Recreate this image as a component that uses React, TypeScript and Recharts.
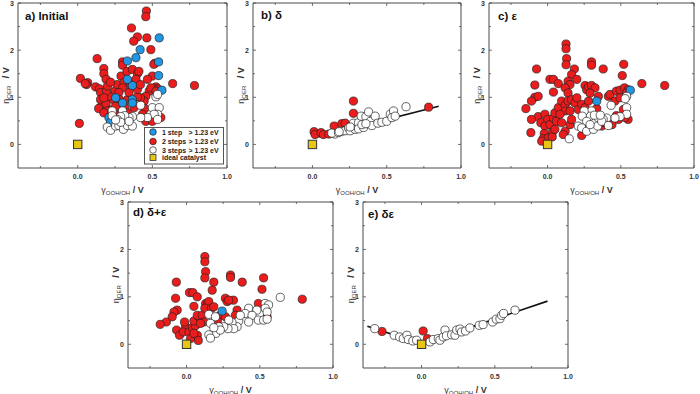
import React from 'react';
import { ScatterChart, Scatter, XAxis, YAxis, ReferenceArea, Label } from 'recharts';

type P = [number, number];

// ---------- data ----------
const aRed: P[] = [[0.46,2.83],[0.456,2.71],[0.36,2.47],[0.40,2.28],[0.375,2.19],[0.463,2.26],[0.49,2.01],[0.13,1.82],[0.30,1.75],[0.30,1.68],[0.517,1.72],[0.175,1.61],[0.175,1.50],[0.19,1.38],[0.018,1.40],[0.067,1.31],[0.06,1.27],[0.12,1.22],[0.146,1.18],[0.153,1.10],[0.153,0.95],[0.153,0.79],[0.14,0.76],[0.19,0.86],[0.24,0.95],[0.25,1.13],[0.265,1.27],[0.29,1.45],[0.33,1.55],[0.366,1.59],[0.40,1.50],[0.41,1.55],[0.39,1.38],[0.333,1.34],[0.31,1.31],[0.355,1.25],[0.30,1.20],[0.276,1.10],[0.28,0.95],[0.29,0.81],[0.315,0.78],[0.333,0.95],[0.265,0.67],[0.243,0.64],[0.22,0.73],[0.20,0.71],[0.22,0.64],[0.238,0.57],[0.247,0.49],[0.30,0.42],[0.011,0.445],[0.50,1.45],[0.51,1.70],[0.524,1.22],[0.535,1.18],[0.512,1.17],[0.479,1.13],[0.49,1.20],[0.456,1.02],[0.445,0.92],[0.42,0.99],[0.40,1.01],[0.45,0.76],[0.434,0.64],[0.456,0.49],[0.50,0.49],[0.557,0.57],[0.636,1.29],[0.782,1.25],[0.21,1.02],[0.193,1.13],[0.175,0.99],[0.05,1.29],[0.20,1.24],[0.22,1.32],[0.175,0.67],[0.254,0.81],[0.333,0.67],[0.377,0.78],[0.366,0.92],[0.344,1.10],[0.40,1.17],[0.42,1.27],[0.467,1.38],[0.524,1.13]];
const aBlue: P[] = [[0.546,2.26],[0.418,2.01],[0.39,1.84],[0.333,1.77],[0.542,1.75],[0.542,1.46],[0.366,1.25],[0.333,1.38],[0.564,1.15],[0.366,0.95],[0.366,0.88],[0.209,0.57],[0.22,0.47],[0.30,0.88],[0.254,0.99]];
const aWhite: P[] = [[0.524,1.01],[0.535,1.06],[0.422,0.83],[0.50,0.78],[0.546,0.78],[0.535,0.64],[0.512,0.64],[0.467,0.57],[0.422,0.57],[0.366,0.59],[0.344,0.57],[0.30,0.71],[0.315,0.61],[0.288,0.59],[0.265,0.53],[0.231,0.71],[0.231,0.61],[0.198,0.37],[0.22,0.30],[0.254,0.39],[0.276,0.40],[0.306,0.32],[0.333,0.40],[0.366,0.39],[0.344,0.49],[0.288,0.47],[0.254,0.52],[0.535,0.53]];

const bRed: P[] = [[0.011,0.27],[0.018,0.21],[0.058,0.25],[0.074,0.21],[0.11,0.22],[0.146,0.39],[0.198,0.44],[0.22,0.45],[0.276,0.92],[0.276,0.66],[0.782,0.79]];
const bWhite: P[] = [[0.15,0.22],[0.13,0.24],[0.175,0.25],[0.198,0.28],[0.22,0.29],[0.243,0.35],[0.254,0.29],[0.276,0.45],[0.288,0.32],[0.31,0.46],[0.328,0.60],[0.31,0.33],[0.344,0.36],[0.36,0.59],[0.378,0.69],[0.39,0.49],[0.40,0.40],[0.422,0.60],[0.44,0.45],[0.467,0.47],[0.50,0.49],[0.524,0.64],[0.546,0.71],[0.535,0.57],[0.557,0.60],[0.63,0.80],[0.333,0.42],[0.36,0.44],[0.254,0.37],[0.18,0.27]];
const bLine: P[] = [[0.04,0.16],[0.85,0.81]];

const cRed: P[] = [[0.126,2.13],[0.126,2.03],[0.13,1.82],[0.126,1.69],[0.30,1.75],[0.30,1.68],[0.52,1.70],[0.51,1.46],[-0.075,1.60],[0.183,1.60],[0.38,1.60],[0.164,1.48],[0.20,1.38],[0.016,1.38],[0.04,1.38],[0.073,1.29],[-0.087,1.26],[0.04,1.11],[0.14,1.34],[0.153,1.27],[0.12,1.20],[0.14,1.09],[0.256,1.25],[0.267,1.16],[0.28,1.22],[0.30,1.25],[0.324,1.20],[0.347,1.02],[0.415,1.02],[0.427,1.06],[0.47,1.13],[0.495,1.15],[0.525,1.20],[0.55,1.16],[0.54,1.09],[0.644,1.29],[0.80,1.25],[0.46,0.92],[0.495,0.99],[-0.087,1.0],[-0.064,1.02],[-0.11,0.92],[-0.148,0.76],[-0.064,0.59],[-0.046,0.46],[-0.114,0.25],[-0.018,0.64],[0.0,0.53],[-0.018,0.39],[-0.023,0.23],[-0.03,0.12],[0.005,0.14],[0.032,0.26],[0.032,0.16],[0.016,0.42],[0.04,0.56],[0.05,0.67],[0.06,0.49],[0.073,0.78],[0.096,0.92],[0.12,0.83],[0.12,0.71],[0.14,0.92],[0.164,0.95],[0.187,0.88],[0.20,0.99],[0.153,0.71],[0.085,0.64],[0.096,0.46],[0.12,0.28],[0.107,0.21],[0.153,0.42],[0.164,0.53],[0.21,0.74],[0.233,0.85],[0.256,0.78],[0.28,0.92],[0.29,1.09],[0.233,0.19],[0.256,0.32],[0.336,0.76],[0.37,0.39],[0.39,0.46],[0.44,0.42],[0.484,0.53],[0.518,0.74],[0.55,0.53],[0.53,0.57],[0.47,0.61],[-0.11,0.53],[0.05,0.32],[-0.04,0.07]];
const cBlue: P[] = [[0.336,0.92],[0.565,1.15]];
const cWhite: P[] = [[0.54,1.02],[0.53,0.97],[0.434,0.83],[0.54,0.78],[0.54,0.64],[0.495,0.59],[0.46,0.56],[0.404,0.56],[0.38,0.53],[0.347,0.56],[0.30,0.71],[0.29,0.60],[0.25,0.71],[0.237,0.60],[0.267,0.49],[0.21,0.39],[0.233,0.35],[0.267,0.28],[0.313,0.32],[0.342,0.39],[0.37,0.49],[0.29,0.42],[0.148,0.12],[0.415,0.40],[0.32,0.62],[0.36,0.62]];

const dRed: P[] = [[0.125,1.85],[0.125,1.74],[0.13,1.53],[0.125,1.40],[0.30,1.46],[0.30,1.41],[0.38,1.31],[0.526,1.40],[0.515,1.16],[0.186,1.31],[0.175,1.14],[-0.07,1.31],[0.02,1.09],[0.043,1.09],[0.073,1.0],[0.05,0.80],[-0.075,0.97],[-0.064,0.72],[-0.086,0.68],[-0.098,0.58],[-0.138,0.47],[-0.18,0.42],[-0.068,0.30],[-0.048,0.19],[-0.007,0.37],[-0.023,0.26],[0.016,0.26],[0.04,0.35],[0.06,0.39],[0.05,0.49],[0.084,0.58],[0.073,0.61],[0.107,0.61],[0.13,0.86],[0.14,0.83],[0.152,0.90],[0.125,0.76],[0.17,0.76],[0.186,0.79],[0.118,0.47],[0.095,0.44],[0.073,0.19],[0.08,0.08],[0.027,0.12],[0.05,0.23],[0.265,0.97],[0.277,0.90],[0.32,0.93],[0.288,0.93],[0.23,0.61],[0.265,0.58],[0.21,0.49],[0.345,0.72],[0.333,0.61],[0.49,0.86],[0.55,0.58],[0.79,0.95],[-0.014,0.47]];
const dBlue: P[] = [[0.243,0.70]];
const dWhite: P[] = [[0.64,0.99],[0.537,0.86],[0.56,0.83],[0.537,0.76],[0.55,0.68],[0.424,0.76],[0.40,0.65],[0.48,0.72],[0.447,0.61],[0.49,0.51],[0.526,0.51],[0.55,0.53],[0.424,0.47],[0.356,0.49],[0.367,0.61],[0.345,0.37],[0.31,0.46],[0.288,0.51],[0.322,0.33],[0.283,0.33],[0.254,0.37],[0.22,0.37],[0.20,0.23],[0.23,0.30],[0.152,0.63],[0.197,0.58],[0.163,0.44],[0.186,0.35],[0.152,0.20],[0.163,0.13]];

const eRed: P[] = [[-0.27,0.27],[0.011,0.28],[0.04,0.12]];
const eWhite: P[] = [[-0.32,0.33],[-0.187,0.19],[-0.15,0.155],[-0.125,0.12],[-0.1,0.19],[-0.09,0.10],[-0.06,0.07],[-0.034,0.085],[0.057,0.05],[0.08,0.10],[0.114,0.12],[0.125,0.085],[0.148,0.155],[0.16,0.30],[0.17,0.18],[0.205,0.20],[0.228,0.19],[0.24,0.30],[0.262,0.32],[0.273,0.26],[0.30,0.28],[0.33,0.345],[0.394,0.40],[0.42,0.415],[0.485,0.47],[0.51,0.53],[0.535,0.54],[0.547,0.61],[0.56,0.65],[0.638,0.72]];
const eLine: P[] = [[-0.37,0.38],[0.0,0.01],[0.86,0.91]];

const ideal: P[] = [[0, 0]];

const xTicks = [-0.25, 0, 0.25, 0.5, 0.75, 1.0];
const xTickLabels: Record<string, string> = { '0': '0.0', '0.5': '0.5', '1': '1.0' };
const yTicks = [0, 0.5, 1, 1.5, 2, 2.5, 3];
const yTickLabels: Record<string, string> = { '0': '0', '1': '1', '2': '2', '3': '3' };
const xDomain: [number, number] = [-0.4, 1.0];
const yDomain: [number, number] = [-0.5, 3];

const legendLabels = ['1 step', '2 steps', '3 steps', 'ideal catalyst'];
const legendSuffix = ['> 1.23 eV', '> 1.23 eV', '> 1.23 eV', ''];

// ---------- styles ----------
const RED = '#ec1c1c';
const BLUE = '#2196e3';
const WHITE = '#ffffff';
const YELLOW = '#e8c414';
const FRAME = '#4a4a4a';
const FONT = '"Liberation Sans", Arial, sans-serif';
const R = 4.1;

const toObj = (arr: P[]) => arr.map(([x, y]) => ({ x, y }));

const dot = (fill: string) => (p: any) => (
  <circle cx={p.cx} cy={p.cy} r={R} fill={fill} stroke="#222" strokeWidth={0.7} />
);
const square = (p: any) => (
  <rect x={p.cx - 4.2} y={p.cy - 4.2} width={8.4} height={8.4} fill={YELLOW} stroke="#333" strokeWidth={1} />
);
const nothing = () => <g />;

interface Cfg {
  title: string;
  px: number; py: number; pw: number; ph: number;
  tdx: number; tdy: number;
  red: P[]; blue: P[]; white: P[]; line?: P[];
}

const panels: Cfg[] = [
  { title: 'a) Initial', px: 18, py: 3, pw: 209, ph: 165, tdx: 7, tdy: 16.5, red: aRed, blue: aBlue, white: aWhite },
  { title: 'b) δ', px: 253, py: 3, pw: 208, ph: 165, tdx: 8, tdy: 15.5, red: bRed, blue: [], white: bWhite, line: bLine },
  { title: 'c) ε', px: 489, py: 3, pw: 205, ph: 165, tdx: 9, tdy: 16.5, red: cRed, blue: cBlue, white: cWhite },
  { title: 'd) δ+ε', px: 128, py: 202, pw: 205, ph: 166, tdx: 5, tdy: 13.5, red: dRed, blue: dBlue, white: dWhite },
  { title: 'e) δε', px: 363, py: 202, pw: 205, ph: 166, tdx: 5, tdy: 16, red: eRed, blue: [], white: eWhite, line: eLine },
];

// plot-area left = ML + YW, plot bottom = H - MB - XH
const ML = 17, YW = 1, MT = 3, MR = 8, MB = 29, XH = 1;
const PL = ML + YW;

function Panel({ cfg }: { cfg: Cfg }) {
  const W = PL + cfg.pw + MR;
  const H = MT + cfg.ph + XH + MB;
  const left = PL, top = MT, right = PL + cfg.pw, bottom = MT + cfg.ph;

  const xTick = (props: any) => {
    const { x, payload } = props;
    const lab = xTickLabels[String(payload.value)];
    const len = lab ? 3 : 2;
    return (
      <g>
        <line x1={x} x2={x} y1={bottom} y2={bottom - len} stroke={FRAME} strokeWidth={0.8} />
        <line x1={x} x2={x} y1={top} y2={top + len} stroke={FRAME} strokeWidth={0.8} />
        {lab && (
          <text x={x} y={bottom + 11} textAnchor="middle" fontSize={7} fontWeight="bold" fill="#333" fontFamily={FONT}>
            {lab}
          </text>
        )}
      </g>
    );
  };
  const yTick = (props: any) => {
    const { y, payload } = props;
    const lab = yTickLabels[String(payload.value)];
    const len = lab ? 3 : 2;
    return (
      <g>
        <line x1={left} x2={left + len} y1={y} y2={y} stroke={FRAME} strokeWidth={0.8} />
        <line x1={right} x2={right - len} y1={y} y2={y} stroke={FRAME} strokeWidth={0.8} />
        {lab && (
          <text x={left - 4} y={y + 2.5} textAnchor="end" fontSize={7} fontWeight="bold" fill="#333" fontFamily={FONT}>
            {lab}
          </text>
        )}
      </g>
    );
  };

  const xLabel = () => (
    <text x={left + cfg.pw / 2} y={bottom + 25} textAnchor="middle" fontSize={9} fill="#333" fontFamily={FONT}>
      γ<tspan fontSize={6} dy={1.5}>OOH/OH</tspan>
      <tspan dy={-1.5} fontSize={9} fontWeight="bold"> / V</tspan>
    </text>
  );
  const yCx = 9, yCy = top + cfg.ph / 2;
  const yLabel = () => (
    <text x={yCx} y={yCy} transform={`rotate(-90, ${yCx}, ${yCy})`} textAnchor="middle" fontSize={9} fill="#333" fontFamily={FONT}>
      η<tspan fontSize={6} dy={1.5}>OER</tspan>
      <tspan dy={-1.5} fontSize={9} fontWeight="bold" style={{ whiteSpace: 'pre' }}>{'   / V'}</tspan>
    </text>
  );
  const titleLabel = () => (
    <text x={left + cfg.tdx} y={top + cfg.tdy} fontSize={11.5} fontWeight="bold" fill="#111" fontFamily={FONT}>
      {cfg.title}
    </text>
  );

  return (
    <div style={{ position: 'absolute', left: cfg.px - PL, top: cfg.py - MT, width: W, height: H }}>
      <ScatterChart width={W} height={H} margin={{ top: MT, right: MR, bottom: MB, left: ML }}>
        <XAxis
          type="number" dataKey="x" domain={xDomain} ticks={xTicks} interval={0}
          tick={xTick} tickLine={false} axisLine={false} height={XH} tickSize={0} tickMargin={0} allowDataOverflow
        >
          <Label content={xLabel} />
        </XAxis>
        <YAxis
          type="number" dataKey="y" domain={yDomain} ticks={yTicks} interval={0}
          tick={yTick} tickLine={false} axisLine={false} width={YW} tickSize={0} tickMargin={0} allowDataOverflow
        >
          <Label content={yLabel} />
          <Label content={titleLabel} />
        </YAxis>
        <ReferenceArea x1={xDomain[0]} x2={xDomain[1]} y1={yDomain[0]} y2={yDomain[1]} fill="none" fillOpacity={0} stroke={FRAME} strokeWidth={1} />
        {cfg.line && (
          <Scatter data={toObj(cfg.line)} line={{ stroke: '#111', strokeWidth: 1.6 }} shape={nothing} isAnimationActive={false} />
        )}
        <Scatter data={toObj(cfg.red)} shape={dot(RED)} isAnimationActive={false} />
        {cfg.blue.length > 0 && <Scatter data={toObj(cfg.blue)} shape={dot(BLUE)} isAnimationActive={false} />}
        <Scatter data={toObj(cfg.white)} shape={dot(WHITE)} isAnimationActive={false} />
        <Scatter data={toObj(ideal)} shape={square} isAnimationActive={false} />
      </ScatterChart>
    </div>
  );
}

function LegendBox() {
  const colors = [BLUE, RED, WHITE, YELLOW];
  const rows = [5, 14.5, 23, 30.5];
  return (
    <svg style={{ position: 'absolute', left: 144, top: 127 }} width={80} height={38}>
      <rect x={0.5} y={0.5} width={79} height={36.5} fill="#fff" stroke="#555" strokeWidth={1} />
      {legendLabels.map((lab, i) => (
        <g key={lab}>
          {i < 3 ? (
            <circle cx={9} cy={rows[i]} r={3.3} fill={colors[i]} stroke="#222" strokeWidth={0.7} />
          ) : (
            <rect x={6} y={rows[i] - 3} width={6} height={6} fill={YELLOW} stroke="#333" strokeWidth={0.8} />
          )}
          <text x={18} y={rows[i] + 2.5} fontSize={7} fontWeight="bold" fill="#222" fontFamily={FONT}>{lab}</text>
          {legendSuffix[i] && (
            <text x={44.5} y={rows[i] + 2.5} fontSize={7} fontWeight="bold" fill="#222" fontFamily={FONT}>{legendSuffix[i]}</text>
          )}
        </g>
      ))}
    </svg>
  );
}

export default function App() {
  return (
    <div style={{ position: 'fixed', left: 0, top: 0, width: 700, height: 394, background: '#fff', overflow: 'hidden' }}>
      {panels.map((p) => (
        <Panel key={p.title} cfg={p} />
      ))}
      <LegendBox />
    </div>
  );
}
